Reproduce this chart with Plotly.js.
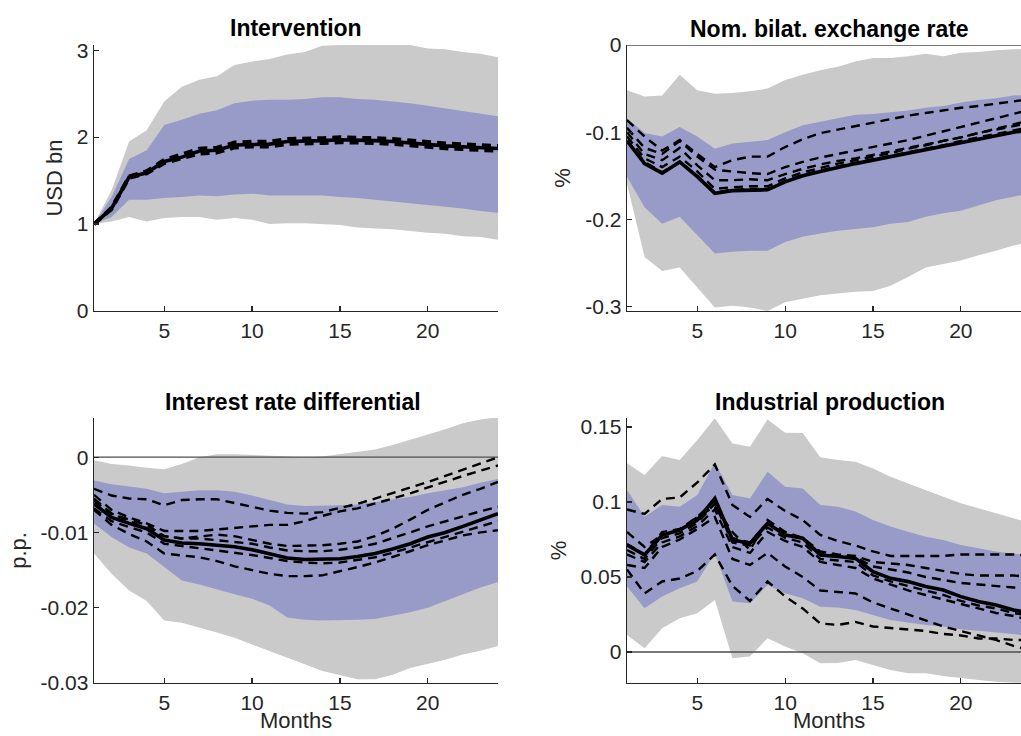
<!DOCTYPE html>
<html>
<head>
<meta charset="utf-8">
<script src="https://cdn.plot.ly/plotly-3.0.1.min.js"></script>
<style>
  html, body { margin: 0; padding: 0; background: #ffffff; }
  #chart { width: 1021px; height: 736px; }
</style>
</head>
<body>
<div id="chart"></div>
<script>
// ---------------- data ----------------
const months = [1,2,3,4,5,6,7,8,9,10,11,12,13,14,15,16,17,18,19,20,21,22,23,24];
const zeroRef = [0, 0];

const panelTitles = ["Intervention", "Nom. bilat. exchange rate", "Interest rate differential", "Industrial production"];
const yUnits = ["USD bn", "%", "p.p.", "%"];
const xLabel = "Months";
const xTicks = [5, 10, 15, 20];

// Intervention (USD bn)
const ivMedian = [1.00,1.18,1.54,1.59,1.72,1.77,1.84,1.85,1.91,1.92,1.92,1.95,1.95,1.96,1.97,1.97,1.96,1.95,1.93,1.92,1.90,1.89,1.88,1.87];
const ivAltA   = [1.00,1.19,1.55,1.61,1.74,1.80,1.87,1.88,1.94,1.95,1.95,1.98,1.98,1.99,2.00,2.00,1.99,1.98,1.96,1.95,1.93,1.92,1.91,1.90];
const ivAltB   = [1.00,1.17,1.53,1.58,1.70,1.75,1.81,1.82,1.88,1.89,1.89,1.92,1.92,1.93,1.94,1.94,1.93,1.92,1.90,1.89,1.87,1.86,1.85,1.84];
const ivOuterHi = [1.00,1.39,1.95,2.08,2.41,2.58,2.66,2.70,2.83,2.87,2.90,2.95,2.98,3.05,3.06,3.07,3.07,3.07,3.06,3.02,3.01,2.98,2.96,2.92];
const ivOuterLo = [1.00,1.03,1.08,1.03,1.07,1.08,1.08,1.05,1.07,1.05,1.00,1.01,1.01,1.00,0.99,0.96,0.95,0.94,0.92,0.90,0.89,0.86,0.85,0.82];
const ivInnerHi = [1.00,1.31,1.75,1.85,2.14,2.20,2.27,2.31,2.39,2.42,2.43,2.43,2.44,2.46,2.46,2.44,2.43,2.41,2.39,2.36,2.33,2.30,2.27,2.24];
const ivInnerLo = [1.00,1.08,1.28,1.28,1.30,1.31,1.33,1.32,1.34,1.35,1.33,1.33,1.33,1.33,1.31,1.30,1.28,1.26,1.24,1.22,1.20,1.18,1.15,1.13];
const ivTickVals = [0, 1, 2, 3];
const ivTickText = ["0", "1", "2", "3"];

// Nominal bilateral exchange rate (%)
const erMedian = [-0.110,-0.136,-0.147,-0.134,-0.151,-0.170,-0.167,-0.166,-0.166,-0.157,-0.150,-0.145,-0.140,-0.136,-0.132,-0.128,-0.124,-0.120,-0.115,-0.111,-0.107,-0.104,-0.100,-0.097];
const erAltA = [-0.086,-0.105,-0.121,-0.109,-0.125,-0.140,-0.132,-0.128,-0.128,-0.117,-0.108,-0.101,-0.097,-0.093,-0.089,-0.085,-0.081,-0.078,-0.075,-0.072,-0.070,-0.067,-0.064,-0.062];
const erAltB = [-0.095,-0.118,-0.125,-0.110,-0.128,-0.143,-0.145,-0.147,-0.148,-0.140,-0.134,-0.129,-0.125,-0.121,-0.117,-0.113,-0.109,-0.104,-0.099,-0.094,-0.089,-0.084,-0.079,-0.074];
const erAltC = [-0.100,-0.125,-0.132,-0.118,-0.138,-0.155,-0.155,-0.154,-0.155,-0.148,-0.142,-0.137,-0.133,-0.130,-0.126,-0.122,-0.118,-0.114,-0.110,-0.106,-0.101,-0.096,-0.091,-0.086];
const erAltD = [-0.105,-0.130,-0.140,-0.128,-0.145,-0.165,-0.163,-0.162,-0.162,-0.153,-0.146,-0.141,-0.136,-0.132,-0.128,-0.124,-0.119,-0.115,-0.110,-0.106,-0.101,-0.097,-0.093,-0.089];
const erAltE = [-0.110,-0.134,-0.146,-0.134,-0.150,-0.169,-0.166,-0.165,-0.165,-0.156,-0.149,-0.144,-0.139,-0.135,-0.131,-0.127,-0.123,-0.119,-0.115,-0.110,-0.106,-0.102,-0.098,-0.094];
const erOuterHi = [-0.052,-0.059,-0.058,-0.034,-0.052,-0.056,-0.055,-0.053,-0.050,-0.040,-0.034,-0.029,-0.025,-0.019,-0.015,-0.015,-0.013,-0.010,-0.013,-0.009,-0.008,-0.006,-0.005,-0.004];
const erOuterLo = [-0.159,-0.243,-0.259,-0.255,-0.278,-0.301,-0.299,-0.301,-0.305,-0.295,-0.291,-0.287,-0.285,-0.283,-0.282,-0.276,-0.266,-0.255,-0.251,-0.247,-0.241,-0.236,-0.230,-0.226];
const erInnerHi = [-0.084,-0.101,-0.105,-0.094,-0.105,-0.119,-0.113,-0.111,-0.109,-0.100,-0.092,-0.088,-0.084,-0.080,-0.079,-0.077,-0.075,-0.072,-0.070,-0.066,-0.063,-0.061,-0.058,-0.057];
const erInnerLo = [-0.151,-0.186,-0.205,-0.197,-0.218,-0.239,-0.237,-0.236,-0.236,-0.226,-0.220,-0.216,-0.213,-0.211,-0.209,-0.205,-0.203,-0.197,-0.193,-0.190,-0.184,-0.178,-0.174,-0.170];
const erTickVals = [-0.3, -0.2, -0.1, 0];
const erTickText = ["-0.3", "-0.2", "-0.1", "0"];

// Interest rate differential (p.p.)
const irMedian = [-0.0062,-0.0080,-0.0088,-0.0095,-0.0110,-0.0114,-0.0115,-0.0117,-0.0119,-0.0123,-0.0128,-0.0134,-0.0136,-0.0136,-0.0135,-0.0132,-0.0128,-0.0122,-0.0115,-0.0106,-0.0100,-0.0092,-0.0084,-0.0075];
const irAltA = [-0.0042,-0.0051,-0.0055,-0.0056,-0.0064,-0.0057,-0.0056,-0.0056,-0.0061,-0.0066,-0.0071,-0.0074,-0.0075,-0.0073,-0.0068,-0.0062,-0.0055,-0.0048,-0.0041,-0.0033,-0.0025,-0.0017,-0.0008,0.0000];
const irAltB = [-0.0050,-0.0070,-0.0080,-0.0088,-0.0098,-0.0098,-0.0098,-0.0096,-0.0094,-0.0092,-0.0090,-0.0090,-0.0085,-0.0078,-0.0072,-0.0068,-0.0062,-0.0055,-0.0048,-0.0040,-0.0033,-0.0025,-0.0018,-0.0011];
const irAltC = [-0.0055,-0.0075,-0.0085,-0.0095,-0.0105,-0.0108,-0.0105,-0.0103,-0.0105,-0.0110,-0.0115,-0.0118,-0.0118,-0.0117,-0.0115,-0.0112,-0.0105,-0.0095,-0.0083,-0.0070,-0.0060,-0.0050,-0.0042,-0.0033];
const irAltD = [-0.0070,-0.0090,-0.0102,-0.0112,-0.0128,-0.0130,-0.0133,-0.0138,-0.0145,-0.0150,-0.0155,-0.0158,-0.0158,-0.0157,-0.0152,-0.0146,-0.0140,-0.0133,-0.0125,-0.0117,-0.0110,-0.0104,-0.0100,-0.0097];
const irAltE = [-0.0058,-0.0075,-0.0083,-0.0090,-0.0105,-0.0108,-0.0108,-0.0110,-0.0112,-0.0115,-0.0120,-0.0124,-0.0125,-0.0125,-0.0123,-0.0120,-0.0115,-0.0108,-0.0100,-0.0092,-0.0085,-0.0078,-0.0072,-0.0066];
const irAltF = [-0.0068,-0.0085,-0.0093,-0.0100,-0.0115,-0.0118,-0.0120,-0.0123,-0.0126,-0.0130,-0.0134,-0.0138,-0.0140,-0.0141,-0.0140,-0.0137,-0.0133,-0.0127,-0.0120,-0.0112,-0.0105,-0.0098,-0.0092,-0.0085];
const irOuterHi = [-0.0004,-0.0009,-0.0011,-0.0014,-0.0016,-0.0009,0.0000,0.0004,0.0004,0.0003,0.0001,0.0001,0.0000,0.0001,0.0004,0.0007,0.0010,0.0016,0.0023,0.0029,0.0037,0.0045,0.0050,0.0053];
const irOuterLo = [-0.0128,-0.0155,-0.0177,-0.0191,-0.0217,-0.0220,-0.0226,-0.0233,-0.0240,-0.0248,-0.0257,-0.0266,-0.0275,-0.0284,-0.0289,-0.0295,-0.0295,-0.0289,-0.0280,-0.0275,-0.0269,-0.0262,-0.0257,-0.0251];
const irInnerHi = [-0.0031,-0.0036,-0.0039,-0.0042,-0.0048,-0.0046,-0.0044,-0.0044,-0.0046,-0.0051,-0.0057,-0.0063,-0.0065,-0.0065,-0.0064,-0.0063,-0.0060,-0.0056,-0.0053,-0.0048,-0.0044,-0.0040,-0.0034,-0.0029];
const irInnerLo = [-0.0088,-0.0106,-0.0120,-0.0128,-0.0146,-0.0164,-0.0169,-0.0175,-0.0182,-0.0188,-0.0197,-0.0213,-0.0216,-0.0217,-0.0217,-0.0216,-0.0215,-0.0211,-0.0206,-0.0200,-0.0191,-0.0182,-0.0173,-0.0166];
const irTickVals = [-0.03, -0.02, -0.01, 0];
const irTickText = ["-0.03", "-0.02", "-0.01", "0"];

// Industrial production (%)
const ipMedian = [0.0713,0.0647,0.0780,0.0813,0.0880,0.1024,0.0747,0.0724,0.0858,0.0780,0.0758,0.0647,0.0636,0.0624,0.0536,0.0491,0.0469,0.0436,0.0413,0.0369,0.0336,0.0313,0.0280,0.0258];
const ipAltA = [0.095,0.092,0.102,0.103,0.113,0.125,0.098,0.090,0.102,0.094,0.088,0.078,0.074,0.071,0.067,0.064,0.064,0.064,0.064,0.065,0.065,0.065,0.065,0.064];
const ipAltB = [0.080,0.070,0.078,0.081,0.090,0.097,0.080,0.068,0.088,0.080,0.076,0.067,0.065,0.064,0.060,0.059,0.058,0.056,0.054,0.052,0.051,0.051,0.051,0.050];
const ipAltC = [0.072,0.065,0.080,0.082,0.090,0.101,0.076,0.073,0.086,0.079,0.076,0.066,0.064,0.063,0.057,0.055,0.053,0.050,0.048,0.046,0.045,0.044,0.043,0.043];
const ipAltD = [0.068,0.062,0.076,0.079,0.086,0.099,0.073,0.071,0.083,0.076,0.073,0.062,0.061,0.060,0.051,0.047,0.044,0.041,0.038,0.034,0.031,0.029,0.026,0.024];
const ipAltE = [0.065,0.060,0.073,0.077,0.084,0.095,0.070,0.066,0.080,0.074,0.070,0.060,0.058,0.056,0.049,0.045,0.041,0.038,0.035,0.032,0.029,0.026,0.024,0.021];
const ipAltF = [0.058,0.056,0.070,0.075,0.082,0.090,0.062,0.058,0.066,0.057,0.050,0.041,0.040,0.039,0.033,0.029,0.025,0.021,0.017,0.014,0.011,0.008,0.004,0.001];
const ipAltG = [0.055,0.039,0.047,0.049,0.054,0.065,0.044,0.034,0.047,0.037,0.029,0.019,0.018,0.020,0.017,0.016,0.015,0.014,0.012,0.011,0.009,0.009,0.008,0.008];
const ipOuterHi = [0.1258,0.1180,0.1307,0.1280,0.1413,0.1558,0.1390,0.1369,0.1550,0.1462,0.1460,0.1298,0.1280,0.1269,0.1224,0.1169,0.1124,0.1080,0.1036,0.0991,0.0958,0.0924,0.0891,0.0858];
const ipOuterLo = [0.0113,0.0024,0.0158,0.0224,0.0258,0.0347,-0.0042,-0.0031,0.0091,0.0036,-0.0009,-0.0076,-0.0074,-0.0053,-0.0087,-0.0120,-0.0142,-0.0142,-0.0160,-0.0176,-0.0187,-0.0198,-0.0205,-0.0209];
const ipInnerHi = [0.1080,0.0902,0.0980,0.0969,0.1047,0.1262,0.1047,0.1024,0.1202,0.1102,0.1090,0.0980,0.0969,0.0936,0.0880,0.0836,0.0802,0.0769,0.0747,0.0713,0.0691,0.0669,0.0655,0.0645];
const ipInnerLo = [0.0436,0.0291,0.0369,0.0424,0.0469,0.0658,0.0336,0.0324,0.0447,0.0391,0.0358,0.0302,0.0296,0.0280,0.0247,0.0213,0.0196,0.0180,0.0169,0.0151,0.0142,0.0129,0.0120,0.0107];
const ipTickVals = [0, 0.05, 0.1, 0.15];
const ipTickText = ["0", "0.05", "0.1", "0.15"];

// ---------------- styling ----------------
const GREY = "rgb(202,202,202)";
const BLUE = "rgb(152,155,200)";
const INK = "#262626";
const FONT = "Liberation Sans, Arial, Helvetica, sans-serif";

function band(hi, lo, color, xa, ya) {
  return {
    x: months.concat(months.slice().reverse()),
    y: hi.concat(lo.slice().reverse()),
    xaxis: xa, yaxis: ya,
    type: "scatter", mode: "lines",
    fill: "toself", fillcolor: color,
    line: { width: 0, color: color },
    hoverinfo: "skip", showlegend: false
  };
}
function dashed(y, xa, ya, w) {
  return {
    x: months, y: y, xaxis: xa, yaxis: ya,
    type: "scatter", mode: "lines",
    line: { color: "#000000", width: w || 2.4, dash: "9px,6px" },
    showlegend: false
  };
}
function solid(y, xa, ya) {
  return {
    x: months, y: y, xaxis: xa, yaxis: ya,
    type: "scatter", mode: "lines",
    line: { color: "#000000", width: 3.6 },
    showlegend: false
  };
}
function zeroLine(xa, ya) {
  return {
    x: [months[0], months[months.length - 1]], y: zeroRef,
    xaxis: xa, yaxis: ya, type: "scatter", mode: "lines",
    line: { color: "#4d4d4d", width: 1.4 },
    hoverinfo: "skip", showlegend: false
  };
}

const traces = [
  band(ivOuterHi, ivOuterLo, GREY, "x", "y"),
  band(ivInnerHi, ivInnerLo, BLUE, "x", "y"),
  dashed(ivAltA, "x", "y", 3.6),
  dashed(ivAltB, "x", "y", 3.6),
  solid(ivMedian, "x", "y"),

  band(erOuterHi, erOuterLo, GREY, "x2", "y2"),
  band(erInnerHi, erInnerLo, BLUE, "x2", "y2"),
  zeroLine("x2", "y2"),
  dashed(erAltA, "x2", "y2"),
  dashed(erAltB, "x2", "y2"),
  dashed(erAltC, "x2", "y2"),
  dashed(erAltD, "x2", "y2"),
  dashed(erAltE, "x2", "y2"),
  solid(erMedian, "x2", "y2"),

  band(irOuterHi, irOuterLo, GREY, "x3", "y3"),
  band(irInnerHi, irInnerLo, BLUE, "x3", "y3"),
  zeroLine("x3", "y3"),
  dashed(irAltA, "x3", "y3"),
  dashed(irAltB, "x3", "y3"),
  dashed(irAltC, "x3", "y3"),
  dashed(irAltD, "x3", "y3"),
  dashed(irAltE, "x3", "y3"),
  dashed(irAltF, "x3", "y3"),
  solid(irMedian, "x3", "y3"),

  band(ipOuterHi, ipOuterLo, GREY, "x4", "y4"),
  band(ipInnerHi, ipInnerLo, BLUE, "x4", "y4"),
  zeroLine("x4", "y4"),
  dashed(ipAltA, "x4", "y4"),
  dashed(ipAltB, "x4", "y4"),
  dashed(ipAltC, "x4", "y4"),
  dashed(ipAltD, "x4", "y4"),
  dashed(ipAltE, "x4", "y4"),
  dashed(ipAltF, "x4", "y4"),
  dashed(ipAltG, "x4", "y4"),
  solid(ipMedian, "x4", "y4")
];

const W = 1021, H = 736;
const LEFT_DOM = [94 / W, 498 / W];
const RIGHT_DOM = [627 / W, 1];
const TOP_DOM = [1 - 311 / H, 1 - 45 / H];
const BOT_DOM = [1 - 683 / H, 1 - 418 / H];

function xAx(dom, anchor, range) {
  return {
    domain: dom, anchor: anchor, range: range,
    tickmode: "array", tickvals: xTicks, ticktext: xTicks.map(String),
    ticks: "inside", ticklen: 5, tickwidth: 1.2, tickcolor: INK,
    showline: true, linecolor: INK, linewidth: 1.4, mirror: false,
    showgrid: false, zeroline: false, layer: "above traces",
    tickfont: { family: FONT, size: 21, color: INK },
    fixedrange: true
  };
}
function yAx(dom, anchor, range, vals, text, title) {
  return {
    domain: dom, anchor: anchor, range: range,
    tickmode: "array", tickvals: vals, ticktext: text,
    ticks: "inside", ticklen: 5, tickwidth: 1.2, tickcolor: INK,
    showline: true, linecolor: INK, linewidth: 1.4, mirror: false,
    showgrid: false, zeroline: false, layer: "above traces",
    tickfont: { family: FONT, size: 21, color: INK },
    title: { text: title, font: { family: FONT, size: 22, color: INK }, standoff: 8 },
    fixedrange: true
  };
}

const xRightEnd = 1 + (1021 - 627) / 17.57;

function titleAnn(text, xpx, ypx) {
  return { text: "<b>" + text + "</b>", xref: "paper", yref: "paper", x: xpx / W, y: 1 - ypx / H,
           showarrow: false, xanchor: "center", yanchor: "middle",
           font: { family: FONT, size: 23, color: "#000" } };
}
function xLabelAnn(text, xpx, ypx) {
  return { text: text, xref: "paper", yref: "paper", x: xpx / W, y: 1 - ypx / H,
           showarrow: false, xanchor: "center", yanchor: "bottom",
           font: { family: FONT, size: 22, color: INK } };
}

const layout = {
  width: W, height: H,
  margin: { l: 0, r: 0, t: 0, b: 0 },
  paper_bgcolor: "#ffffff", plot_bgcolor: "rgba(0,0,0,0)",
  showlegend: false,
  font: { family: FONT, color: INK },
  xaxis:  xAx(LEFT_DOM,  "y",  [1, 24]),
  yaxis:  yAx(TOP_DOM,   "x",  [0, 3.06], ivTickVals, ivTickText, yUnits[0]),
  xaxis2: xAx(RIGHT_DOM, "y2", [1, xRightEnd]),
  yaxis2: yAx(TOP_DOM,   "x2", [-0.305, 0], erTickVals, erTickText, yUnits[1]),
  xaxis3: xAx(LEFT_DOM,  "y3", [1, 24]),
  yaxis3: yAx(BOT_DOM,   "x3", [-0.03, 0.0052], irTickVals, irTickText, yUnits[2]),
  xaxis4: xAx(RIGHT_DOM, "y4", [1, xRightEnd]),
  yaxis4: yAx(BOT_DOM,   "x4", [-0.0207, 0.156], ipTickVals, ipTickText, yUnits[3]),
  annotations: [
    titleAnn(panelTitles[0], 296, 28),
    titleAnn(panelTitles[1], 829, 29),
    titleAnn(panelTitles[2], 293, 402),
    titleAnn(panelTitles[3], 830, 402),
    xLabelAnn(xLabel, 296, 735),
    xLabelAnn(xLabel, 829, 735)
  ]
};

Plotly.newPlot("chart", traces, layout, { displayModeBar: false, staticPlot: true });
</script>
</body>
</html>
